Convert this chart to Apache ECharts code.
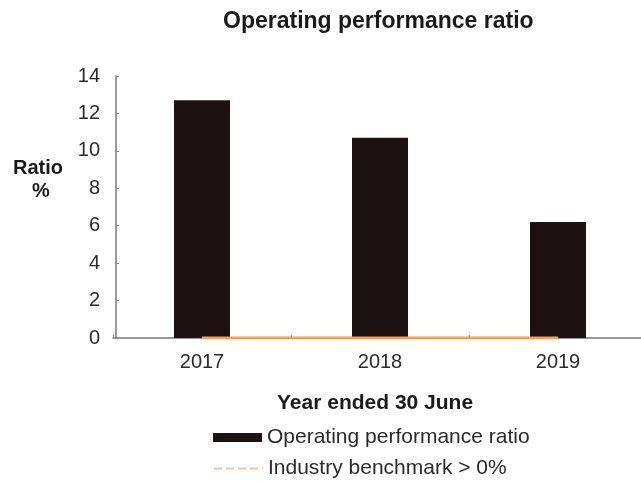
<!DOCTYPE html>
<html><head><meta charset="utf-8">
<script src="https://cdn.jsdelivr.net/npm/echarts@6/dist/echarts.min.js"></script>
<style>html,body{margin:0;padding:0;background:#fff}#c{width:641px;height:481px}</style>
</head><body><div id="c"></div>
<script>
var categories = ['2017', '2018', '2019'];
var ratioValues = [12.7, 10.7, 6.2];
var benchmarkValues = [0, 0, 0];
var yTicks = [0, 2, 4, 6, 8, 10, 12, 14];

var font = '"Liberation Sans", Arial, sans-serif';
var chart = echarts.init(document.getElementById('c'));
chart.setOption({
  animation: false,
  backgroundColor: '#fff',
  title: {
    text: 'Operating performance ratio',
    left: 218, top: 5,
    textStyle: { fontFamily: font, fontSize: 23, fontWeight: 'bold', color: '#1a1a1a' }
  },
  grid: { left: 113, width: 534, top: 76, bottom: 143, outerBoundsMode: 'none', containLabel: false },
  legend: [
    { left: 208, top: 422, itemWidth: 49, itemHeight: 9,
      textStyle: { fontFamily: font, fontSize: 21, color: '#2a2a2a' },
      data: [{ name: 'Operating performance ratio', icon: 'rect' }] },
    { left: 208, top: 453, itemWidth: 49, itemHeight: 9,
      textStyle: { fontFamily: font, fontSize: 21, color: '#2a2a2a' },
      data: [{ name: 'Industry benchmark > 0%', itemStyle: { color: 'rgba(0,0,0,0)', borderWidth: 0 },
               lineStyle: { type: 'dashed', color: '#f3c79a', width: 2 } }] }
  ],
  xAxis: {
    type: 'category', data: categories,
    axisLine: { lineStyle: { color: '#777', width: 1.5 } },
    axisTick: { show: true, inside: true, length: 3, lineStyle: { color: '#888' } },
    axisLabel: { fontFamily: font, fontSize: 20, color: '#2a2a2a', margin: 14 }
  },
  yAxis: {
    type: 'value', min: 0, max: 14, interval: 2, offset: -3,
    axisLine: { show: true, lineStyle: { color: '#777', width: 1.5 } },
    axisTick: { show: true, inside: true, length: 3, lineStyle: { color: '#888' } },
    splitLine: { show: false },
    axisLabel: { fontFamily: font, fontSize: 20, color: '#2a2a2a', margin: 16,
      formatter: function (v) { return yTicks.indexOf(v) >= 0 ? String(v) : ''; } }
  },
  graphic: [
    { type: 'text', left: 13, top: 158, style: { text: 'Ratio', font: 'bold 20px ' + font, fill: '#1a1a1a' } },
    { type: 'text', left: 32, top: 181, style: { text: '%', font: 'bold 20px ' + font, fill: '#1a1a1a' } },
    { type: 'text', left: 277, top: 393, style: { text: 'Year ended 30 June', font: 'bold 21px ' + font, fill: '#1a1a1a' } }
  ],
  series: [
    { name: 'Operating performance ratio', type: 'bar', data: ratioValues, barWidth: 56,
      itemStyle: { color: '#1c1212' } },
    { name: 'Industry benchmark > 0%', type: 'line', data: benchmarkValues, symbol: 'none', z: 5,
      lineStyle: { color: '#f4a050', width: 3 }, itemStyle: { color: '#f4b070' } }
  ]
});
</script></body></html>
